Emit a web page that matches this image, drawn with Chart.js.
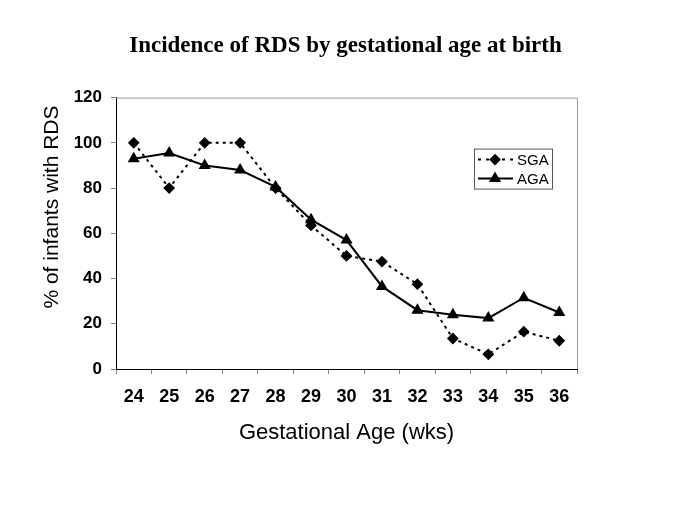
<!DOCTYPE html>
<html>
<head>
<meta charset="utf-8">
<script src="https://cdn.jsdelivr.net/npm/chart.js@4/dist/chart.umd.min.js"></script>
<style>
  html, body { margin: 0; padding: 0; background: #fff; }
  #wrap { width: 685px; height: 513px; }
</style>
</head>
<body>
<div id="wrap"><canvas id="rdsChart"></canvas></div>
<script>
// gestational age (weeks) and % of infants with RDS
const weeks = ["24", "25", "26", "27", "28", "29", "30", "31", "32", "33", "34", "35", "36"];
const sgaValues = [100, 80, 100, 100, 80, 63.5, 50, 47.5, 37.5, 13.5, 6.5, 16.5, 12.5];
const agaValues = [93, 95.5, 90, 88, 80.5, 66, 57, 36.5, 26, 24, 22.5, 31.5, 25];
const yTicks = [0, 20, 40, 60, 80, 100, 120];

const sansFont = "'Liberation Sans', Arial, sans-serif";
const serifFont = "'Liberation Serif', 'Times New Roman', serif";

// gray border on top and right of the plot area
const frameBorder = {
  id: "frameBorder",
  afterDraw(chart) {
    const { ctx, chartArea: a } = chart;
    ctx.save();
    ctx.strokeStyle = "#9a9a9a";
    ctx.lineWidth = 1;
    ctx.beginPath();
    ctx.moveTo(a.left, a.top + 0.5);
    ctx.lineTo(a.right + 0.5, a.top + 0.5);
    ctx.lineTo(a.right + 0.5, a.bottom);
    ctx.stroke();
    ctx.restore();
  }
};

// boxed legend inside the plot area
const boxLegend = {
  id: "boxLegend",
  afterDraw(chart) {
    const { ctx, chartArea: a } = chart;
    const bx = a.right - 103, by = a.top + 51, bw = 78, bh = 40;
    ctx.save();
    ctx.fillStyle = "#fff";
    ctx.fillRect(bx, by, bw, bh);
    ctx.strokeStyle = "#555";
    ctx.lineWidth = 1;
    ctx.strokeRect(bx + 0.5, by + 0.5, bw, bh);
    chart.data.datasets.forEach((ds, i) => {
      const y = by + 11 + i * 19;
      ctx.strokeStyle = ds.borderColor;
      ctx.lineWidth = ds.borderWidth;
      ctx.setLineDash(ds.borderDash ? [3, 5] : []);
      ctx.beginPath();
      ctx.moveTo(bx + 4, y);
      ctx.lineTo(bx + 39, y);
      ctx.stroke();
      ctx.setLineDash([]);
      ctx.fillStyle = "#000";
      ctx.strokeStyle = "#000";
      Chart.helpers.drawPoint(ctx, {
        pointStyle: ds.pointStyle,
        radius: ds.pointRadius,
        rotation: 0,
        borderWidth: 1
      }, bx + 21, y);
      ctx.fillStyle = "#000";
      ctx.font = "15px " + sansFont;
      ctx.textBaseline = "middle";
      ctx.fillText(ds.label, bx + 43, y + 1);
    });
    ctx.restore();
  }
};

const ctx = document.getElementById("rdsChart").getContext("2d");
const rdsChart = new Chart(ctx, {
  type: "line",
  data: {
    labels: weeks,
    datasets: [
      {
        label: "SGA",
        data: sgaValues,
        borderColor: "#000",
        backgroundColor: "#000",
        borderWidth: 2,
        borderDash: [3, 4],
        pointStyle: "rectRot",
        pointRadius: 4.5,
        pointBackgroundColor: "#000",
        pointBorderColor: "#000",
        tension: 0
      },
      {
        label: "AGA",
        data: agaValues,
        borderColor: "#000",
        backgroundColor: "#000",
        borderWidth: 2,
        pointStyle: "triangle",
        pointRadius: 5,
        pointBackgroundColor: "#000",
        pointBorderColor: "#000",
        tension: 0
      }
    ]
  },
  options: {
    responsive: true,
    maintainAspectRatio: false,
    animation: false,
    layout: { padding: { left: 40, right: 34, top: 0, bottom: 67 } },
    plugins: {
      legend: { display: false },
      tooltip: { enabled: false },
      title: {
        display: true,
        text: "Incidence of RDS by gestational age at birth",
        color: "#000",
        font: { family: serifFont, size: 23, weight: "bold" },
        padding: { top: 32, bottom: 38 }
      }
    },
    scales: {
      x: {
        type: "category",
        offset: true,
        afterFit(scale) { scale.height = 77; },
        grid: { offset: true, drawOnChartArea: false, drawTicks: true, tickLength: 5, color: "#808080" },
        border: { color: "#000", width: 1 },
        ticks: {
          color: "#000",
          padding: 12,
          maxRotation: 0,
          autoSkip: false,
          font: { family: sansFont, size: 18, weight: "bold" }
        },
        title: {
          display: true,
          text: "Gestational Age (wks)",
          color: "#000",
          padding: 0,
          font: { family: sansFont, size: 22 }
        }
      },
      y: {
        min: 0,
        max: 120,
        afterFit(scale) { scale.width = 76; },
        afterBuildTicks(scale) { scale.ticks = yTicks.map(v => ({ value: v })); },
        grid: { drawOnChartArea: false, drawTicks: true, tickLength: 5, color: "#808080" },
        border: { color: "#000", width: 1 },
        ticks: {
          color: "#000",
          padding: 9,
          font: { family: sansFont, size: 17, weight: "bold" }
        },
        title: {
          display: true,
          text: "         % of infants with RDS",
          color: "#000",
          padding: 0,
          font: { family: sansFont, size: 21 }
        }
      },
      y2: {
        position: "right",
        min: 0,
        max: 120,
        afterFit(scale) { scale.width = 74; },
        grid: { display: false, drawTicks: false },
        border: { display: false },
        ticks: { display: false }
      }
    }
  },
  plugins: [frameBorder, boxLegend]
});
</script>
</body>
</html>
